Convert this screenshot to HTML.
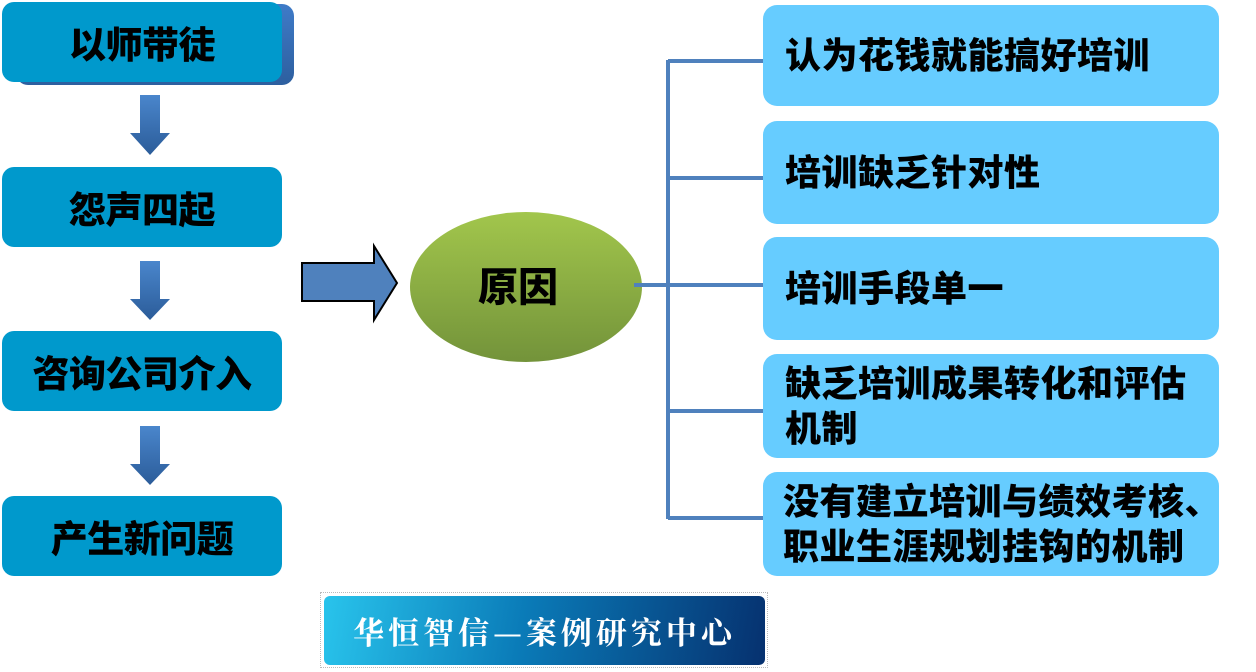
<!DOCTYPE html>
<html><head><meta charset="utf-8"><style>
body{margin:0;width:1256px;height:672px;background:#fff;position:relative;overflow:hidden;font-family:"Liberation Sans","Noto Sans CJK SC",sans-serif;}
.lb{position:absolute;left:2px;width:280px;height:80px;background:#0099cc;border-radius:12px;color:#000;font-weight:900;font-size:37px;display:flex;align-items:center;justify-content:center;letter-spacing:-0.5px;}
.rb{position:absolute;left:763px;width:456px;background:#66ccff;border-radius:14px;color:#000;font-weight:900;font-size:36px;display:flex;align-items:center;padding-left:22px;box-sizing:border-box;line-height:45px;white-space:nowrap;letter-spacing:0.5px;}
</style></head><body>
<div style="position:absolute;left:16px;top:4px;width:278px;height:81px;background:linear-gradient(#3f7bc8,#2d5f9f);border-radius:12px"></div>
<div class="lb" style="top:2px">以师带徒</div>
<div class="lb" style="top:167px">怨声四起</div>
<div class="lb" style="top:331px">咨询公司介入</div>
<div class="lb" style="top:496px">产生新问题</div>
<svg width="1256" height="672" style="position:absolute;left:0;top:0">
<defs><linearGradient id="a" x1="0" y1="0" x2="0" y2="1"><stop offset="0" stop-color="#4a86cc"/><stop offset="1" stop-color="#2b5c99"/></linearGradient>
<linearGradient id="g" x1="0" y1="0" x2="0" y2="1"><stop offset="0" stop-color="#a2c64c"/><stop offset="1" stop-color="#73933a"/></linearGradient></defs>
<g fill="url(#a)">
<polygon points="140,95 160,95 160,133 170,133 150,155 130,133 140,133"/>
<polygon points="140,261 160,261 160,299 170,299 150,320 130,299 140,299"/>
<polygon points="140,426 160,426 160,464 170,464 150,485 130,464 140,464"/>
</g>
<polygon points="302,263 374,263 374,246 397,283 374,320 374,301 302,301" fill="#4f81bd" stroke="#000" stroke-width="2"/>
<ellipse cx="526" cy="287" rx="116" ry="75" fill="url(#g)"/>
<text x="518" y="301" text-anchor="middle" font-size="40" font-weight="900" font-family="Liberation Sans,Noto Sans CJK SC,sans-serif">原因</text>
<g stroke="#4f81bd" stroke-width="4" fill="none">
<line x1="634" y1="285" x2="668" y2="285"/>
<line x1="668" y1="60" x2="668" y2="519"/>
<line x1="668" y1="61" x2="765" y2="61"/>
<line x1="668" y1="178" x2="765" y2="178"/>
<line x1="668" y1="285" x2="765" y2="285"/>
<line x1="668" y1="411" x2="765" y2="411"/>
<line x1="668" y1="518" x2="765" y2="518"/>
</g>
</svg>
<div class="rb" style="top:5px;height:101px">认为花钱就能搞好培训</div>
<div class="rb" style="top:121px;height:103px">培训缺乏针对性</div>
<div class="rb" style="top:237px;height:103px">培训手段单一</div>
<div class="rb" style="top:354px;height:104px">缺乏培训成果转化和评估<br>机制</div>
<div class="rb" style="top:472px;height:104px;padding-left:20px;">没有建立培训与绩效考核、<br>职业生涯规划挂钩的机制</div>
<div style="position:absolute;left:320px;top:592px;width:448px;height:76px;border:1px dotted #bbb;box-sizing:border-box"></div>
<div style="position:absolute;left:324px;top:596px;width:441px;height:69px;border-radius:6px;background:linear-gradient(100deg,#29c4ec,#0a7bb8 45%,#06316f);color:#fff;font-family:'Noto Serif CJK SC','Liberation Serif',serif;font-weight:bold;font-size:31px;display:flex;align-items:center;justify-content:center;letter-spacing:4px">华恒智信—案例研究中心</div>
</body></html>
